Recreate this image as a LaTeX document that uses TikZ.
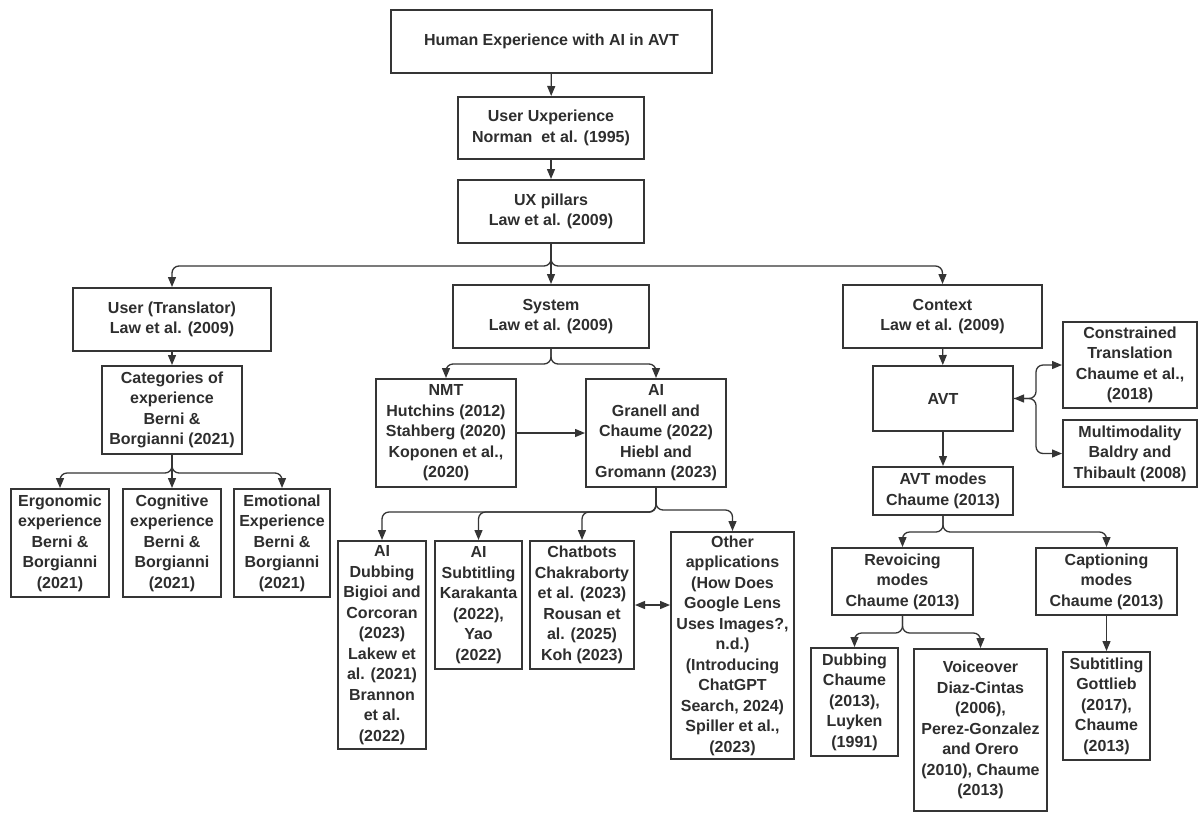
\documentclass[tikz,border=0pt]{standalone}
\usepackage{fontspec}
\setmainfont{Liberation Sans}
\usetikzlibrary{arrows.meta}
\definecolor{ln}{HTML}{353535}
\definecolor{tx}{HTML}{2E2E2E}
\begin{document}
\begin{tikzpicture}[x=1pt,y=-1pt,
  box/.style={draw=ln, line width=2pt, fill=white, inner sep=0pt, align=center, text=tx,
    font=\bfseries\fontsize{16}{20.5}\selectfont},
  conn/.style={draw=ln, line width=1.3pt, rounded corners=7pt, -{Triangle[length=10pt,width=8pt]}},
  biconn/.style={draw=ln, line width=1.3pt, rounded corners=7pt, {Triangle[length=10pt,width=8pt]}-{Triangle[length=10pt,width=8pt]}}]
\useasboundingbox[fill=white] (0,0) rectangle (1198,812);

% top chain
\node[box, minimum width=321pt, minimum height=63pt] (top) at (551.5,41.5) {Human Experience with AI in AVT};
\node[box, minimum width=186pt, minimum height=62pt] (uu) at (551,128) {User Uxperience\\Norman\ \ et al. (1995)};
\node[box, minimum width=186pt, minimum height=63pt] (uxp) at (551,211.5) {UX pillars\\Law et al. (2009)};

% second level
\node[box, minimum width=198pt, minimum height=63pt] (user) at (172,319.5) {User (Translator)\\Law et al. (2009)};
\node[box, minimum width=196pt, minimum height=63pt] (system) at (551,316.5) {System\\Law et al. (2009)};
\node[box, minimum width=199pt, minimum height=63pt] (context) at (942.5,316.5) {Context\\Law et al. (2009)};

% user branch
\node[box, minimum width=140pt, minimum height=88pt] (cat) at (172,410) {Categories of\\experience\\Berni \&\\Borgianni (2021)};
\node[box, minimum width=98pt, minimum height=108pt] (ergo) at (60,543) {Ergonomic\\experience\\Berni \&\\Borgianni\\(2021)};
\node[box, minimum width=98pt, minimum height=108pt] (cog) at (172,543) {Cognitive\\experience\\Berni \&\\Borgianni\\(2021)};
\node[box, minimum width=96pt, minimum height=108pt] (emo) at (282,543) {Emotional\\Experience\\Berni \&\\Borgianni\\(2021)};

% system branch
\node[box, minimum width=140pt, minimum height=108pt] (nmt) at (446,433) {NMT\\Hutchins (2012)\\Stahberg (2020)\\Koponen et al.,\\(2020)};
\node[box, minimum width=140pt, minimum height=108pt] (ai) at (656,433) {AI\\Granell and\\Chaume (2022)\\Hiebl and\\Gromann (2023)};
\node[box, minimum width=88pt, minimum height=208pt] (aidub) at (382,645) {AI\\Dubbing\\Bigioi and\\Corcoran\\(2023)\\Lakew et\\al. (2021)\\Brannon\\et al.\\(2022)};
\node[box, minimum width=87pt, minimum height=128pt] (aisub) at (478.5,605) {AI\\Subtitling\\Karakanta\\(2022),\\Yao\\(2022)};
\node[box, minimum width=104pt, minimum height=128pt] (chat) at (582,605) {Chatbots\\Chakraborty\\et al. (2023)\\Rousan et\\al. (2025)\\Koh (2023)};
\node[box, minimum width=123pt, minimum height=227pt] (other) at (732.5,645.5) {Other\\applications\\(How Does\\Google Lens\\Uses Images?,\\n.d.)\\(Introducing\\ChatGPT\\Search, 2024)\\Spiller et al.,\\(2023)};

% context branch
\node[box, minimum width=140pt, minimum height=65pt] (avt) at (943,398.5) {AVT};
\node[box, minimum width=134pt, minimum height=86pt] (constr) at (1130,365) {Constrained\\Translation\\Chaume et al.,\\(2018)};
\node[box, minimum width=134pt, minimum height=67pt] (multi) at (1130,453.5) {Multimodality\\Baldry and\\Thibault (2008)};
\node[box, minimum width=140pt, minimum height=48pt] (avtm) at (943,491) {AVT modes\\Chaume (2013)};
\node[box, minimum width=141pt, minimum height=67pt] (rev) at (902.5,581.5) {Revoicing\\modes\\Chaume (2013)};
\node[box, minimum width=141pt, minimum height=67pt] (cap) at (1106.5,581.5) {Captioning\\modes\\Chaume (2013)};
\node[box, minimum width=87pt, minimum height=108pt] (dub) at (854.5,702) {Dubbing\\Chaume\\(2013),\\Luyken\\(1991)};
\node[box, minimum width=133pt, minimum height=162pt] (voice) at (980.5,730) {Voiceover\\Diaz-Cintas\\(2006),\\Perez-Gonzalez\\and Orero\\(2010), Chaume\\(2013)};
\node[box, minimum width=87pt, minimum height=108pt] (subt) at (1106.5,706) {Subtitling\\Gottlieb\\(2017),\\Chaume\\(2013)};

\coordinate (j) at (1036,398.5);

% connectors
\draw[conn] (top) -- (uu);
\draw[conn] (uu) -- (uxp);
\draw[conn] (uxp.south) -- ++(0,22) -| (user.north);
\draw[conn] (uxp.south) -- (system.north);
\draw[conn] (uxp.south) -- ++(0,22) -| (context.north);

\draw[conn] (user) -- (cat);
\draw[conn] (cat.south) -- ++(0,18) -| (ergo.north);
\draw[conn] (cat.south) -- (cog.north);
\draw[conn] (cat.south) -- ++(0,18) -| (emo.north);

\draw[conn] (system.south) -- ++(0,15) -| (nmt.north);
\draw[conn] (system.south) -- ++(0,15) -| (ai.north);
\draw[conn] (nmt) -- (ai);
\draw[conn] (ai.south) -- ++(0,24) -| (aidub.north);
\draw[conn] (ai.south) -- ++(0,24) -| (aisub.north);
\draw[conn] (ai.south) -- ++(0,24) -| (chat.north);
\draw[conn] (ai.south) -- ++(0,22) -| (other.north);
\draw[biconn] (chat.east) -- (chat.east -| other.west);

\draw[conn] (context) -- (avt);
\draw[biconn] (avt.east) -- (j) |- (constr.west);
\draw[conn] (avt.east) -- (j) |- (multi.west);
\draw[conn] (avt) -- (avtm);
\draw[conn] (avtm.south) -- ++(0,16) -| (rev.north);
\draw[conn] (avtm.south) -- ++(0,16) -| (cap.north);
\draw[conn] (rev.south) -- ++(0,17) -| (dub.north);
\draw[conn] (rev.south) -- ++(0,17) -| (voice.north);
\draw[conn] (cap) -- (subt);
\end{tikzpicture}
\end{document}
